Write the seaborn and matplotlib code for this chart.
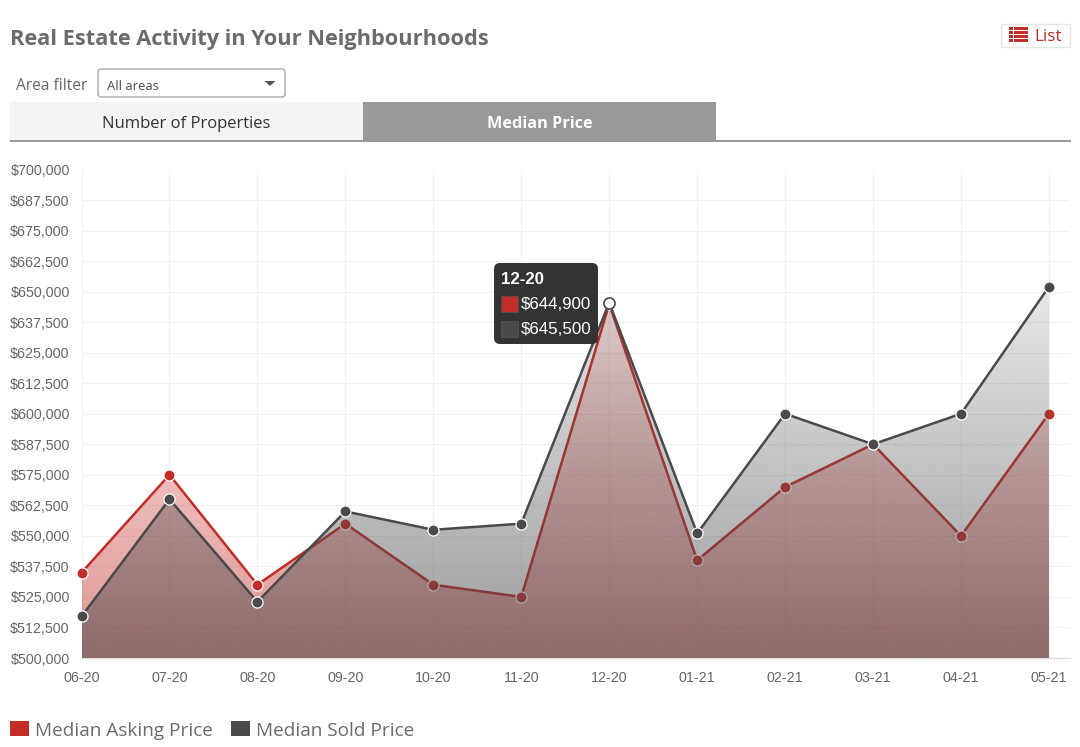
import numpy as np
import pandas as pd
import matplotlib
matplotlib.use("Agg")
import matplotlib.pyplot as plt
from matplotlib.patches import Rectangle, FancyBboxPatch, Polygon
import seaborn as sns

months = ["06-20", "07-20", "08-20", "09-20", "10-20", "11-20",
          "12-20", "01-21", "02-21", "03-21", "04-21", "05-21"]
asking = [534900, 575000, 530000, 555000, 530000, 525000,
          644900, 540000, 570000, 587500, 550000, 600000]
sold = [517000, 565000, 523000, 560000, 552500, 555000,
        645500, 551000, 600000, 587500, 600000, 652000]
y_ticks = list(range(500000, 712500, 12500))

RED = "#c22d28"
GRAY = "#4a4a4a"
W, H = 1080, 747

sns.set_style("white")
plt.rcParams["font.family"] = ["Liberation Sans", "DejaVu Sans"]

df = pd.DataFrame({"month": months, "asking": asking, "sold": sold})

fig = plt.figure(figsize=(10.8, 7.47), dpi=100)
# plot area in pixels: x 81.5..1070, y 169.5..658
ax = fig.add_axes([81.5 / W, 1 - 658 / H, (1070 - 81.5) / W, (658 - 169.5) / H])


def gradient_area(ax, values, color, top_alpha, bottom_alpha, z):
    rgb = matplotlib.colors.to_rgb(color)
    grad = np.zeros((256, 1, 4))
    grad[:, :, :3] = rgb
    grad[:, 0, 3] = np.linspace(top_alpha, bottom_alpha, 256)
    im = ax.imshow(grad, extent=[0, len(values) - 1, 500000, 700000],
                   aspect="auto", origin="upper", zorder=z, interpolation="bilinear")
    xs = list(range(len(values)))
    verts = [(0, 500000)] + list(zip(xs, values)) + [(xs[-1], 500000)]
    clip = Polygon(verts, closed=True, transform=ax.transData, fc="none", ec="none")
    ax.add_patch(clip)
    im.set_clip_path(clip)


# asking goes first, the sold area sits on top of it
gradient_area(ax, asking, RED, 0.0, 0.5, 2)
sns.lineplot(data=df, x="month", y="asking", color=RED, linewidth=1.8, marker="o",
             markersize=8, markeredgecolor="white", markeredgewidth=0.9, ax=ax,
             zorder=3, clip_on=False, sort=False)
gradient_area(ax, sold, GRAY, 0.0, 0.55, 4)
sns.lineplot(data=df, x="month", y="sold", color=GRAY, linewidth=1.8, marker="o",
             markersize=8, markeredgecolor="white", markeredgewidth=0.9, ax=ax,
             zorder=5, clip_on=False, sort=False)

# hovered point
i = months.index("12-20")
ax.plot([i], [sold[i]], marker="o", ms=8, mfc="white", mec=GRAY, mew=1.2, zorder=6, clip_on=False)

ax.set_xlim(0, (1070 - 81.5) / 87.95)
ax.set_ylim(500000, 700000)
ax.set_xticks(range(len(months)))
ax.set_xticklabels(months)
ax.set_yticks(y_ticks)
ax.set_yticklabels(["${:,}".format(v) for v in y_ticks])
ax.set_xlabel("")
ax.set_ylabel("")
ax.grid(True, color="#f1f1f1", linewidth=0.75)
ax.set_axisbelow(True)
ax.tick_params(axis="y", length=4, width=0.75, color="#f1f1f1", labelcolor="#666666", labelsize=10.3, pad=4.5)
ax.tick_params(axis="x", length=4, width=0.75, color="#f1f1f1", labelcolor="#666666", labelsize=10.3, pad=5)
for side in ["top", "right", "left"]:
    ax.spines[side].set_visible(False)
ax.spines["bottom"].set_color("#dddddd")
ax.spines["bottom"].set_linewidth(1)

# page furniture, drawn in pixel coordinates
ui = fig.add_axes([0, 0, 1, 1], zorder=10)
ui.set_xlim(0, W)
ui.set_ylim(H, 0)
ui.axis("off")
ui.patch.set_alpha(0)


def box(x0, y0, x1, y1, **kw):
    ui.add_patch(Rectangle((x0, y0), x1 - x0, y1 - y0, **kw))


def rbox(x0, y0, x1, y1, r, **kw):
    ui.add_patch(FancyBboxPatch((x0 + r, y0 + r), x1 - x0 - 2 * r, y1 - y0 - 2 * r,
                                boxstyle="round,pad={},rounding_size={}".format(r, r), **kw))


ui.text(10, 39, "Real Estate Activity in Your Neighbourhoods", family="Open Sans", weight="bold",
        size=15.7, color="#6b6b6b", va="center")
ui.text(16, 85.5, "Area filter", family="Open Sans", size=11.2, color="#666666", va="center")
rbox(98, 69, 285, 97, 3, fc="white", ec="#aaaaaa", lw=1)
ui.text(107, 86, "All areas", family="Noto Sans", size=9.3, color="#555555", va="center")
ui.add_patch(Polygon([(264.5, 81), (275.5, 81), (270, 86)], fc="#555555", ec="none"))

box(10, 102, 363, 140, fc="#f4f4f4", ec="none")
box(363, 102, 716, 140, fc="#999999", ec="none")
box(10, 140, 1071, 142, fc="#999999", ec="none")
ui.text(186.5, 123.5, "Number of Properties", family="Open Sans", size=12, color="#333333", ha="center", va="center")
ui.text(540, 123.5, "Median Price", family="Open Sans", weight="bold", size=11.7, color="white", ha="center", va="center")

box(1000.5, 23.5, 1070, 47, fc="white", ec="#e6e6e6", lw=1)
for yy in [27, 31, 35, 39]:
    box(1009, yy, 1012.5, yy + 3.2, fc=RED, ec="none")
    box(1013.5, yy, 1028, yy + 3.2, fc=RED, ec="none")
ui.text(1034, 37, "List", family="Open Sans", size=12.3, color=RED, va="center")

# tooltip
rbox(494, 263, 598, 344, 6, fc="#333333", ec="none", zorder=7)
ui.text(501, 279, months[i], weight="bold", size=12.2, color="white", va="center", zorder=8)
box(501, 295.5, 518, 312, fc=RED, ec="#555555", lw=0.5, zorder=8)
box(501, 320.5, 518, 337, fc=GRAY, ec="#555555", lw=0.5, zorder=8)
ui.text(521, 304.5, "${:,}".format(asking[i]), size=12.2, color="white", va="center", zorder=8)
ui.text(521, 329.5, "${:,}".format(sold[i]), size=12.2, color="white", va="center", zorder=8)

# legend
box(10, 721, 29, 736, fc=RED, ec="none")
ui.text(35, 731, "Median Asking Price", family="Open Sans", size=13.7, color="#6b6b6b", va="center")
box(231, 721, 250, 736, fc=GRAY, ec="none")
ui.text(256, 731, "Median Sold Price", family="Open Sans", size=13.7, color="#6b6b6b", va="center")

fig.savefig("out.png", dpi=100)
